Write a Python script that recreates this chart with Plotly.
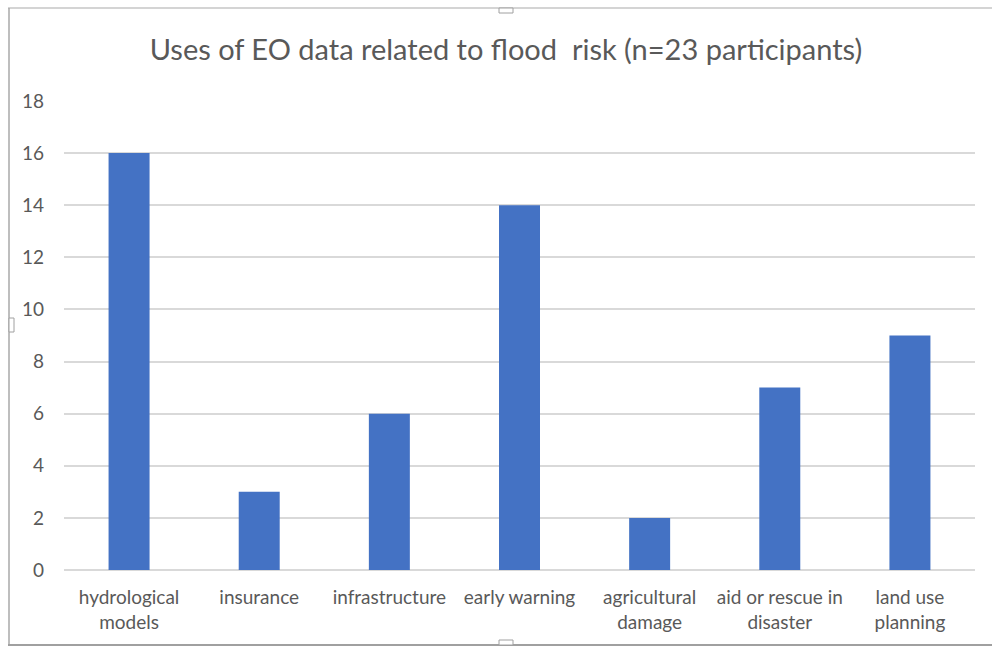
import plotly.graph_objects as go

categories = [
    "hydrological<br>models",
    "insurance",
    "infrastructure",
    "early warning",
    "agricultural<br>damage",
    "aid or rescue in<br>disaster",
    "land use<br>planning",
]
counts = [16, 3, 6, 14, 2, 7, 9]
y_ticks = [0, 2, 4, 6, 8, 10, 12, 14, 16, 18]

W, H = 992, 650
L, R, T, B = 64, 17, 101, 80
PW, PH = W - L - R, H - T - B


def px(x):
    return (x - L) / PW


def py(y):
    return (H - B - y) / PH


FONT = "Lato"
TEXT = "#595959"
GRID = "#d9d9d9"

fig = go.Figure(
    go.Bar(
        x=categories,
        y=counts,
        marker=dict(color="#4472c4", line=dict(width=0)),
        width=0.315,
    )
)

shapes = [
    # chart frame
    dict(type="line", x0=px(8), x1=px(992), y0=py(8), y1=py(8), line=dict(color="#d4d4d4", width=2)),
    dict(type="line", x0=px(9), x1=px(9), y0=py(8), y1=py(645), line=dict(color="#a8a8a8", width=1.5)),
    dict(type="line", x0=px(8), x1=px(992), y0=py(645), y1=py(645), line=dict(color="#a0a0a0", width=2)),
    # selection handles
    dict(type="rect", x0=px(499), x1=px(513), y0=py(8), y1=py(13), line=dict(color="#a0a0a0", width=1), fillcolor="white"),
    dict(type="rect", x0=px(9), x1=px(14), y0=py(318), y1=py(332), line=dict(color="#a0a0a0", width=1), fillcolor="white"),
    dict(type="rect", x0=px(499), x1=px(513), y0=py(640), y1=py(645), line=dict(color="#a0a0a0", width=1), fillcolor="white"),
]
for s in shapes:
    s.update(xref="paper", yref="paper", layer="above")

fig.update_layout(
    width=W,
    height=H,
    margin=dict(l=L, r=R, t=T, b=B),
    paper_bgcolor="white",
    plot_bgcolor="white",
    showlegend=False,
    title=dict(
        text="Uses of EO data related to flood  risk (n=23 participants)",
        xref="container",
        x=506 / W,
        xanchor="center",
        y=1 - 50 / H,
        yanchor="middle",
        font=dict(family=FONT, size=29, color=TEXT),
    ),
    font=dict(family=FONT, color=TEXT),
    shapes=shapes,
    bargap=0.685,
)
fig.update_xaxes(
    showgrid=False,
    showline=False,
    ticks="",
    tickfont=dict(family=FONT, size=19, color=TEXT),
    ticklabelstandoff=14,
)
fig.update_yaxes(
    range=[0, 18],
    tickvals=y_ticks,
    showgrid=True,
    gridcolor=GRID,
    gridwidth=1.5,
    zeroline=True,
    zerolinecolor=GRID,
    zerolinewidth=1.5,
    showline=False,
    ticks="",
    tickfont=dict(family=FONT, size=19, color=TEXT),
    ticklabelstandoff=19,
)

fig.write_html("out.html")
